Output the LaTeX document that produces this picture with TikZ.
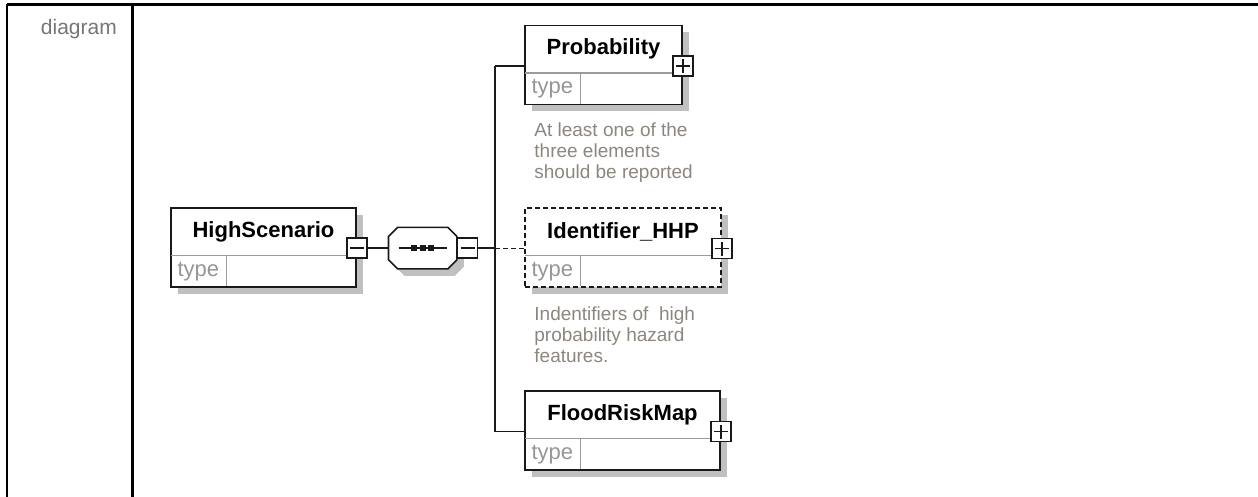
\documentclass[tikz,border=0pt]{standalone}
\usepackage{fontspec}
\setmainfont{Liberation Sans}
\usetikzlibrary{positioning, shadows, calc}
\definecolor{xsdLine}{RGB}{25,25,25}
\definecolor{xsdDivider}{RGB}{155,155,155}
\definecolor{xsdShadow}{RGB}{192,192,192}
\definecolor{xsdType}{RGB}{150,150,150}
\definecolor{xsdNote}{RGB}{140,134,126}
\definecolor{xsdLabel}{RGB}{118,118,118}
\tikzset{
  tableLine/.style={
    draw=black,
    line width=2.2pt
  },
  cellLabel/.style={
    inner sep=0pt,
    text=xsdLabel,
    font=\fontsize{21}{25}\selectfont
  },
  elemFrame/.style={
    draw=xsdLine,
    line width=1.6pt,
    fill=white,
    minimum height=79pt,
    inner sep=0pt,
    drop shadow={shadow xshift=7pt, shadow yshift=-7pt, fill=xsdShadow, opacity=1}
  },
  optionalFrame/.style={
    elemFrame,
    dash pattern=on 5pt off 3pt
  },
  elemName/.style={
    anchor=north,
    minimum height=48pt,
    inner sep=0pt,
    font=\fontsize{22}{26}\selectfont\bfseries
  },
  elemType/.style={
    anchor=north west,
    minimum width=56pt,
    minimum height=31pt,
    inner sep=0pt,
    text=xsdType,
    font=\fontsize{22}{26}\selectfont
  },
  divider/.style={
    draw=xsdDivider,
    line width=1.6pt,
    shorten <=0.8pt,
    shorten >=0.8pt
  },
  boxBase/.style={
    draw=xsdLine,
    line width=1.4pt,
    fill=white,
    minimum size=20pt,
    inner sep=0pt
  },
  collapseBox/.style={
    boxBase,
    path picture={
      \draw[xsdLine, line width=1.4pt] ([xshift=3pt]path picture bounding box.west) -- ([xshift=-3pt]path picture bounding box.east);
    }
  },
  expandBox/.style={
    boxBase,
    path picture={
      \draw[xsdLine, line width=1.4pt] ([xshift=3pt]path picture bounding box.west) -- ([xshift=-3pt]path picture bounding box.east);
      \draw[xsdLine, line width=1.4pt] ([yshift=-3pt]path picture bounding box.north) -- ([yshift=3pt]path picture bounding box.south);
    }
  },
  seqSpace/.style={
    minimum width=68pt,
    minimum height=41pt,
    inner sep=0pt
  },
  seqOutline/.style={
    draw=xsdLine,
    line width=1.6pt,
    fill=white,
    line join=miter,
    drop shadow={shadow xshift=7pt, shadow yshift=-7pt, fill=xsdShadow, opacity=1}
  },
  connector/.style={
    draw=xsdLine,
    line width=1.6pt
  },
  optionalLink/.style={
    connector,
    dash pattern=on 5pt off 3pt
  },
  noteText/.style={
    anchor=north west,
    align=left,
    inner sep=0pt,
    text=xsdNote,
    font=\fontsize{19}{21}\selectfont
  }
}
\begin{document}
\begin{tikzpicture}[x=1pt, y=-1pt]
  \useasboundingbox (0,0) rectangle (1258,497);
  % table cell round the diagram
  \draw[tableLine] (7,4.5) -- (1258,4.5);
  \draw[tableLine] (7,4.5) -- (7,497);
  \draw[tableLine] (132.5,4.5) -- (132.5,497);
  \node[cellLabel, anchor=base east] (cellLbl) at (117,35) {diagram};

  % HighScenario
  \node[elemFrame, minimum width=185pt] (high) at (263.5,247.5) {};
  \node[elemName] (highName) at (high.north) {HighScenario};
  \draw[divider] (highName.south -| high.west) -- (highName.south -| high.east);
  \node[elemType] (highType) at (highName.south -| high.west) {type};
  \draw[divider] (highType.north east) -- (highType.south east);
  \coordinate (highJoin) at ([yshift=7.5pt]highName.south);
  \node[collapseBox] (highMinus) at (highJoin -| high.east) {};

  % sequence compositor
  \node[seqSpace, right=21pt of highMinus] (seq) {};
  \draw[seqOutline] ([xshift=9pt]seq.north west) -- ([xshift=-9pt]seq.north east)
    -- ([yshift=-9pt]seq.north east) -- ([yshift=9pt]seq.south east)
    -- ([xshift=-9pt]seq.south east) -- ([xshift=9pt]seq.south west)
    -- ([yshift=9pt]seq.south west) -- ([yshift=-9pt]seq.north west) -- cycle;
  \draw[connector] ([xshift=-24pt]seq.center) -- ([xshift=24pt]seq.center);
  \foreach \dx in {-8.5,0,8.5}
    \fill[xsdLine] ([xshift=\dx pt]seq.center) +(-3,-3) rectangle +(3,3);
  \node[collapseBox, anchor=west] (seqMinus) at (seq.east) {};
  \draw[connector] (highMinus) -- (seq);
  \coordinate (branch) at (495,0);

  % Probability
  \node[elemFrame, minimum width=157pt] (prob) at (603.5,65) {};
  \node[elemName] (probName) at (prob.north) {Probability};
  \draw[divider] (probName.south -| prob.west) -- (probName.south -| prob.east);
  \node[elemType] (probType) at (probName.south -| prob.west) {type};
  \draw[divider] (probType.north east) -- (probType.south east);
  \coordinate (probJoin) at ([yshift=7pt]probName.south);
  \node[expandBox] (probPlus) at (probJoin -| prob.east) {};
  \node[noteText] (probNote) at ([xshift=10pt, yshift=-17pt]prob.south west)
    {At least one of the\\three elements\\should be reported};

  % Identifier_HHP (optional)
  \node[optionalFrame, minimum width=196pt] (ident) at (623,247.5) {};
  \node[elemName] (identName) at (ident.north) {Identifier\_HHP};
  \draw[divider] (identName.south -| ident.west) -- (identName.south -| ident.east);
  \node[elemType] (identType) at (identName.south -| ident.west) {type};
  \draw[divider] (identType.north east) -- (identType.south east);
  \coordinate (identJoin) at ([yshift=7pt]identName.south);
  \node[expandBox] (identPlus) at (identJoin -| ident.east) {};
  \node[noteText] (identNote) at ([xshift=10pt, yshift=-19pt]ident.south west)
    {Indentifiers of~ high\\probability hazard\\features.};

  % FloodRiskMap
  \node[elemFrame, minimum width=195pt] (flood) at (622.5,430.5) {};
  \node[elemName] (floodName) at (flood.north) {FloodRiskMap};
  \draw[divider] (floodName.south -| flood.west) -- (floodName.south -| flood.east);
  \node[elemType] (floodType) at (floodName.south -| flood.west) {type};
  \draw[divider] (floodType.north east) -- (floodType.south east);
  \coordinate (floodJoin) at ([yshift=7pt]floodName.south);
  \node[expandBox] (floodPlus) at (floodJoin -| flood.east) {};

  % branches to the children
  \draw[connector] (seqMinus.east) -- (seqMinus.east -| branch);
  \draw[connector] (probJoin -| branch) -- (floodJoin -| branch);
  \draw[connector] (probJoin -| branch) -- (probJoin -| prob.west);
  \draw[optionalLink] (identJoin -| branch) -- (identJoin -| ident.west);
  \draw[connector] (floodJoin -| branch) -- (floodJoin -| flood.west);
\end{tikzpicture}
\end{document}
